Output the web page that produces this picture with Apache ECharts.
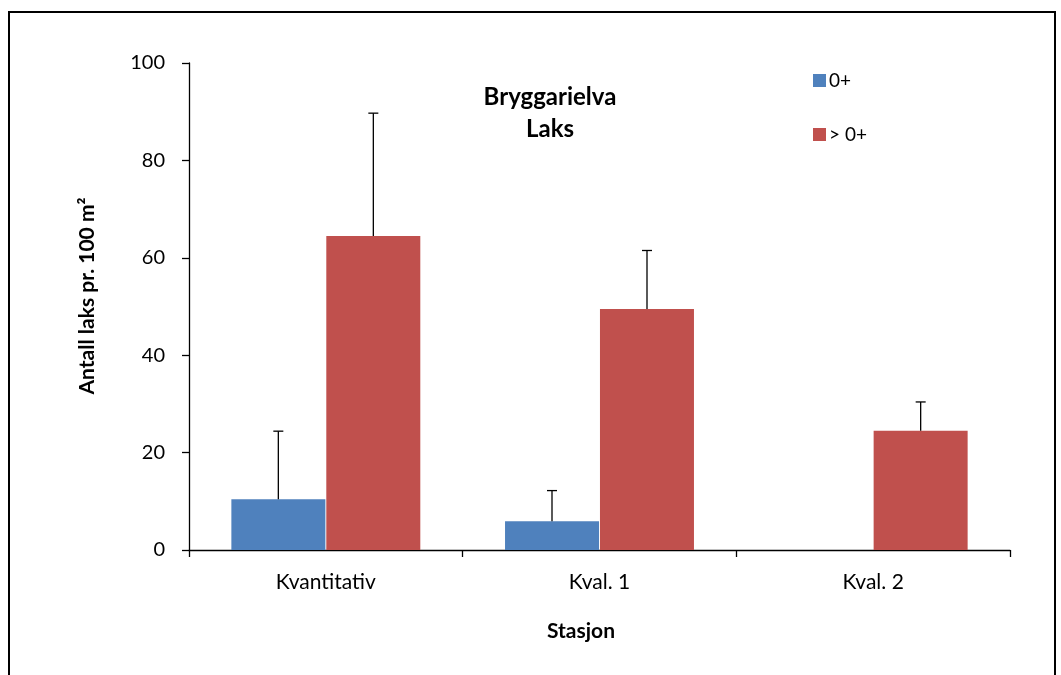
<!DOCTYPE html>
<html>
<head>
<meta charset="utf-8">
<script src="https://cdn.jsdelivr.net/npm/echarts@6/dist/echarts.min.js"></script>
<style>
html,body{margin:0;padding:0;background:#fff;}
#chart{width:1061px;height:675px;}
</style>
</head>
<body>
<div id="chart"></div>
<script>
var categories = ['Kvantitativ', 'Kval. 1', 'Kval. 2'];
var seriesNames = ['0+', '> 0+'];
var values0 = [10.4, 5.9, 0];
var valuesOlder = [64.5, 49.5, 24.5];
var errTop0 = [24.4, 12.2, 0];
var errTopOlder = [89.7, 61.5, 30.4];
var yTicks = [0, 20, 40, 60, 80, 100];

var FONT = 'Lato, "Open Sans", sans-serif';
var chart = echarts.init(document.getElementById('chart'), null, {renderer: 'canvas'});

function errSeries(name, vals, tops, offset) {
  var data = vals.map(function (v, i) { return [i, v, tops[i]]; }).filter(function (d) { return d[2] > d[1]; });
  return {
    type: 'custom',
    name: name + ' err',
    silent: true,
    z: 5,
    data: data,
    renderItem: function (params, api) {
      var lo = api.coord([api.value(0), api.value(1)]);
      var hi = api.coord([api.value(0), api.value(2)]);
      var x = lo[0] + offset;
      return {
        type: 'group',
        children: [
          {type: 'line', shape: {x1: x, y1: lo[1], x2: x, y2: hi[1]}, style: {stroke: '#000', lineWidth: 1.3}},
          {type: 'line', shape: {x1: x - 5, y1: hi[1], x2: x + 5, y2: hi[1]}, style: {stroke: '#000', lineWidth: 1.3}}
        ]
      };
    }
  };
}

var option = {
  animation: false,
  backgroundColor: '#fff',
  textStyle: {fontFamily: FONT},
  grid: {left: 189, top: 63, right: 51, bottom: 125, containLabel: false},
  legend: {
    data: seriesNames,
    orient: 'vertical',
    left: 808,
    top: 66,
    itemWidth: 13,
    itemHeight: 13,
    itemGap: 35,
    icon: 'rect',
    textStyle: {fontFamily: FONT, fontSize: 19, color: '#000', padding: [0, 0, 0, -2]}
  },
  graphic: [
    {type: 'rect', shape: {x: 9, y: 12, width: 1046, height: 680}, style: {fill: 'none', stroke: '#000', lineWidth: 2}, z: 0},
    {type: 'text', style: {text: 'Bryggarielva', font: 'bold 24px ' + FONT, fill: '#000', align: 'center', verticalAlign: 'middle'}, x: 550, y: 97, z: 10},
    {type: 'text', style: {text: 'Laks', font: 'bold 24px ' + FONT, fill: '#000', align: 'center', verticalAlign: 'middle'}, x: 550, y: 129, z: 10},
    {type: 'text', style: {text: 'Stasjon', font: 'bold 21px ' + FONT, fill: '#000', align: 'center', verticalAlign: 'middle'}, x: 581, y: 631, z: 10},
    {type: 'text', style: {text: 'Antall laks pr. 100 m²', font: 'bold 21px ' + FONT, fill: '#000', align: 'center', verticalAlign: 'middle'}, x: 87, y: 296, rotation: Math.PI / 2, z: 10}
  ],
  xAxis: {
    type: 'category',
    data: categories,
    axisLine: {lineStyle: {color: '#000', width: 1.3}},
    axisTick: {show: true, alignWithLabel: false, length: 7, lineStyle: {color: '#000', width: 1.3}},
    axisLabel: {color: '#000', fontSize: 21, fontFamily: FONT, margin: 22}
  },
  yAxis: {
    type: 'value',
    min: 0,
    max: 100,
    interval: 20,
    axisLine: {show: true, lineStyle: {color: '#000', width: 1.3}},
    axisTick: {show: true, length: 7, lineStyle: {color: '#000', width: 1.3}},
    splitLine: {show: false},
    axisLabel: {color: '#000', fontSize: 20, fontFamily: FONT, margin: 24,
      formatter: function (v) { return yTicks.indexOf(v) >= 0 ? String(v) : ''; }}
  },
  series: [
    {name: seriesNames[0], type: 'bar', data: values0, barWidth: 94, barGap: '1%', itemStyle: {color: '#4F81BD'}},
    {name: seriesNames[1], type: 'bar', data: valuesOlder, barWidth: 94, barGap: '1%', itemStyle: {color: '#C0504D'}},
    errSeries('0+', values0, errTop0, -47.5),
    errSeries('> 0+', valuesOlder, errTopOlder, 47.5)
  ]
};
chart.setOption(option);
</script>
</body>
</html>
